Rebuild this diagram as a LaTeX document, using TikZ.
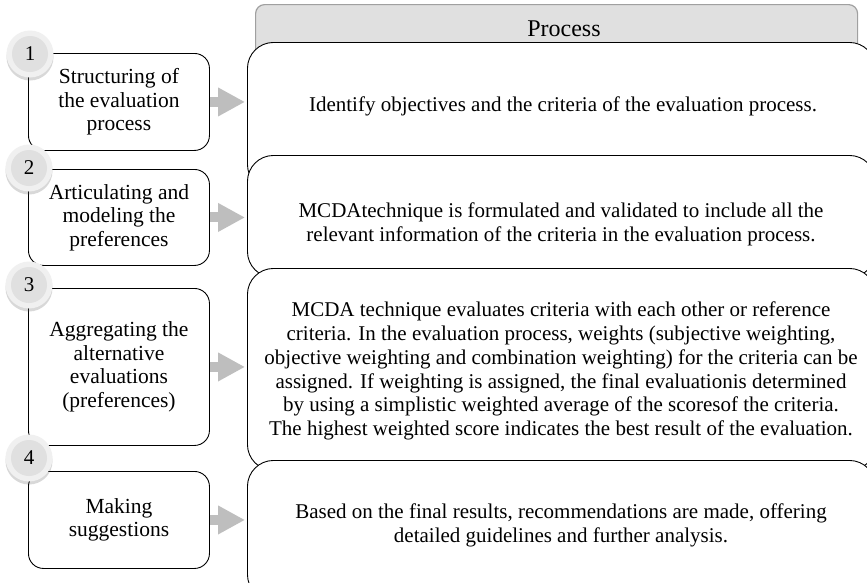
\documentclass[tikz,border=0pt]{standalone}
\usepackage{fontspec}
\setmainfont{Liberation Serif}
\usetikzlibrary{arrows.meta,shadows}
\definecolor{hdrfill}{HTML}{E0E0E0}
\definecolor{hdrline}{HTML}{A0A0A0}
\definecolor{ringfill}{HTML}{F0F0F0}
\definecolor{arrowgray}{HTML}{BEBEBE}
\tikzset{
  txt/.style={font=\fontsize{21}{23.8}\selectfont, align=center, inner sep=0pt},
  ltxt/.style={font=\fontsize{21.5}{23.5}\selectfont, align=center, inner sep=0pt},
  header/.style={draw=hdrline, line width=1.2pt, fill=hdrfill, rounded corners=9pt, inner sep=0pt},
  rbox/.style={draw=black, line width=0.9pt, fill=white, rounded corners=26pt, inner sep=0pt},
  lbox/.style={draw=black, line width=0.9pt, fill=white, rounded corners=15pt, ltxt},
  numc/.style={circle, minimum size=47pt, inner sep=0pt, fill=ringfill,
    drop shadow={shadow xshift=0pt, shadow yshift=-3pt, opacity=0.25, fill=black!60},
    path picture={\fill[hdrfill] (path picture bounding box.center) circle (18pt);},
    font=\fontsize{21}{24}\selectfont},
  flow/.style={draw=arrowgray, line width=10pt, shorten >=2pt,
    -{Triangle[width=27pt, length=27pt]}},
}
\begin{document}
\begin{tikzpicture}[x=1pt,y=-1pt]
\clip (0,0) rectangle (867,582);
\fill[white] (0,0) rectangle (867,582);
% header
\node[header, minimum width=602pt, minimum height=62pt, anchor=north west] (hdr) at (255,4) {};
\node[txt, font=\fontsize{24}{26}\selectfont] (hdrtext) at (564,29) {Process};
% right boxes
\node[rbox, minimum width=628pt, minimum height=148pt, anchor=north west] (r1) at (247,42) {};
\node[rbox, minimum width=628pt, minimum height=122pt, anchor=north west] (r2) at (247,155) {};
\node[rbox, minimum width=628pt, minimum height=202pt, anchor=north west] (r3) at (247,268) {};
\node[rbox, minimum width=628pt, minimum height=140pt, anchor=north west] (r4) at (247,460) {};
\node[txt] (t1) at (563,106) {Identify objectives and the criteria of the evaluation process.};
\node[txt] (t2) at (561,224) {MCDAtechnique is formulated and validated to include all the\\relevant information of the criteria in the evaluation process.};
\node[txt] (t3) at (561,371) {MCDA technique evaluates criteria with each other or reference\\criteria. In the evaluation process, weights (subjective weighting,\\objective weighting and combination weighting) for the criteria can be\\assigned. If weighting is assigned, the final evaluationis determined\\by using a simplistic weighted average of the scoresof the criteria.\\The highest weighted score indicates the best result of the evaluation.};
\node[txt] (t4) at (561,525) {Based on the final results, recommendations are made, offering\\detailed guidelines and further analysis.};
% left boxes
\node[lbox, minimum width=181pt, minimum height=97pt, anchor=north west] (l1) at (28,53) {Structuring of\\the evaluation\\process};
\node[lbox, minimum width=181pt, minimum height=96pt, anchor=north west] (l2) at (28,169) {Articulating and\\modeling the\\preferences};
\node[lbox, minimum width=181pt, minimum height=157pt, anchor=north west] (l3) at (28,288) {Aggregating the\\alternative\\evaluations\\(preferences)};
\node[lbox, minimum width=181pt, minimum height=97pt, anchor=north west] (l4) at (28,471) {Making\\suggestions};
% circles
\node[numc] (c1) at (30,54) {1};
\node[numc] (c2) at (29,168) {2};
\node[numc] (c3) at (29,285) {3};
\node[numc] (c4) at (29,458) {4};
% arrows
\draw[flow] (l1.east) -- (l1.east -| r1.west);
\draw[flow] (l2.east) -- (l2.east -| r2.west);
\draw[flow] (l3.east) -- (l3.east -| r3.west);
\draw[flow] (l4.east) -- (l4.east -| r4.west);
\end{tikzpicture}
\end{document}
